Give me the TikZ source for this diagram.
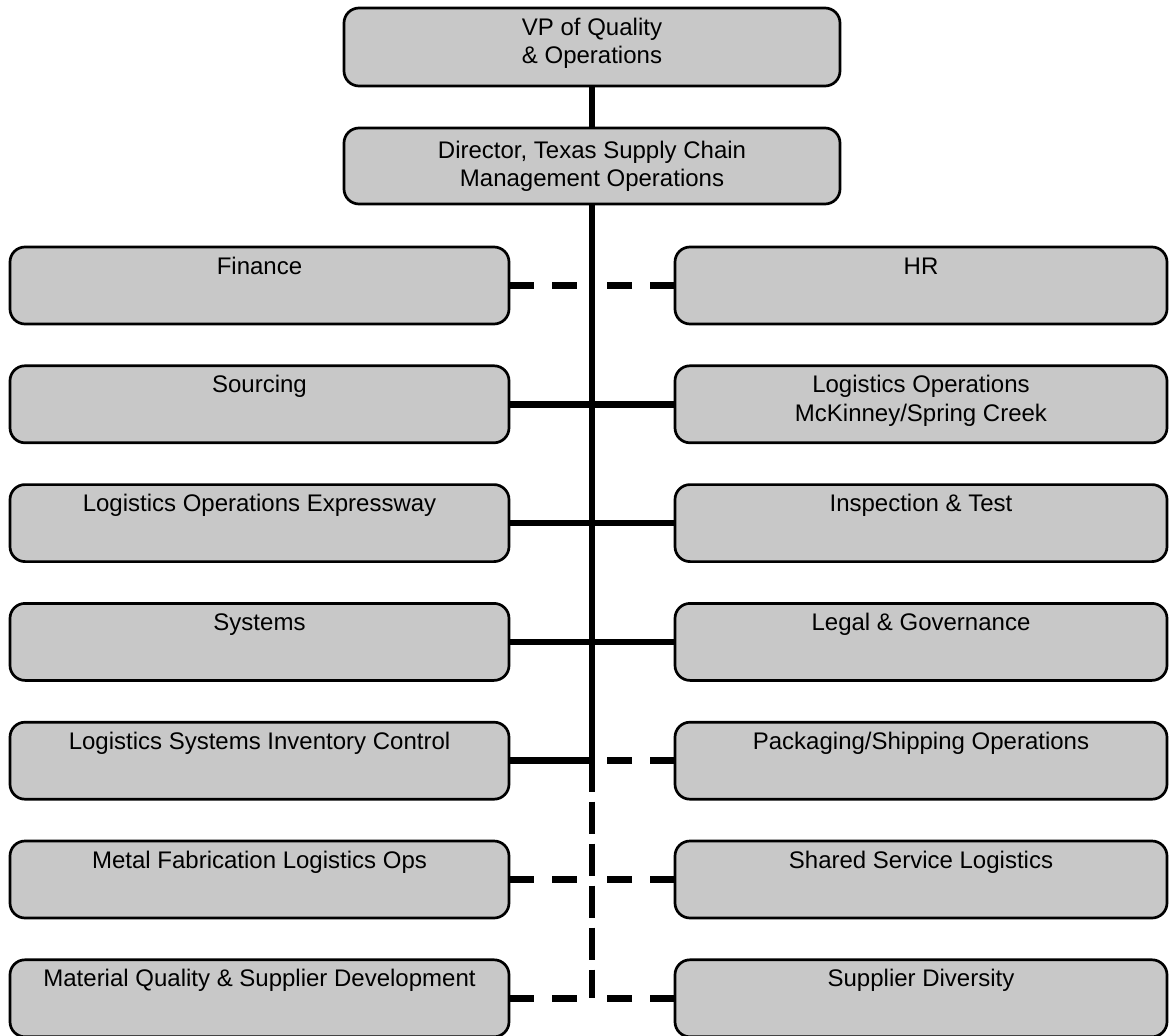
\documentclass[tikz,border=0pt]{standalone}
\usepackage{fontspec}
\setmainfont{Liberation Sans}
\usetikzlibrary{calc}
\definecolor{boxgray}{RGB}{200,200,200}
% text block pinned to the top of a box: width, height, first baseline, text
\newcommand{\boxlbl}[4]{\parbox[c][#2][t]{#1}{\centering\rule{0pt}{#3}#4}}
\newcommand{\leftbox}[1]{\boxlbl{499pt}{77pt}{27pt}{#1}}
\newcommand{\rightbox}[1]{\boxlbl{492pt}{77pt}{27pt}{#1}}
\tikzset{
  orgbox/.style={draw=black, line width=2.7pt, rounded corners=15pt,
    fill=boxgray, inner sep=0pt, outer sep=0pt,
    font=\fontsize{24}{28.5}\selectfont},
  conn/.style={line width=6.5pt, line cap=butt, black},
  hdash/.style={dash pattern=on 25pt off 18pt},
  vdash/.style={dash pattern=on 32pt off 10pt, dash phase=32pt},
}
\begin{document}
\begin{tikzpicture}[x=1pt,y=-1pt]
\useasboundingbox (0,0) rectangle (1171,1036);

% horizontal position of the spine
\coordinate (spx) at (592,0);

% top of the chart
\node[orgbox] (vp) at (592,47) {\boxlbl{496pt}{78pt}{27pt}{VP of Quality\\\& Operations}};
\node[orgbox] (dir) at (592,166) {\boxlbl{496pt}{76pt}{30pt}{Director, Texas Supply Chain\\Management Operations}};

% left column
\node[orgbox] (fin) at (259.5,285.5) {\leftbox{Finance}};
\node[orgbox] (src) at (259.5,404.3) {\leftbox{Sourcing}};
\node[orgbox] (loe) at (259.5,523.1) {\leftbox{Logistics Operations Expressway}};
\node[orgbox] (sys) at (259.5,641.9) {\leftbox{Systems}};
\node[orgbox] (lsic) at (259.5,760.7) {\leftbox{Logistics Systems Inventory Control}};
\node[orgbox] (mfl) at (259.5,879.5) {\leftbox{Metal Fabrication Logistics Ops}};
\node[orgbox] (mqs) at (259.5,998.3) {\leftbox{Material Quality \& Supplier Development}};

% right column
\node[orgbox] (hr) at (921,285.5) {\rightbox{HR}};
\node[orgbox] (lom) at (921,404.3) {\rightbox{Logistics Operations\\McKinney/Spring Creek}};
\node[orgbox] (ins) at (921,523.1) {\rightbox{Inspection \& Test}};
\node[orgbox] (leg) at (921,641.9) {\rightbox{Legal \& Governance}};
\node[orgbox] (pso) at (921,760.7) {\rightbox{Packaging/Shipping Operations}};
\node[orgbox] (ssl) at (921,879.5) {\rightbox{Shared Service Logistics}};
\node[orgbox] (sdv) at (921,998.3) {\rightbox{Supplier Diversity}};

% vertical spine: solid, then dashed below the inventory-control row
\coordinate (spmid) at ($(lsic.east -| spx)+(0,31)$);
\coordinate (spend) at (mqs.east -| spx);
\draw[conn] (vp.south) -- (dir.north);
\draw[conn] (dir.south) -- (spmid);
\draw[conn, vdash] (spmid) -- (spend);

% solid reporting lines
\foreach \b in {src,loe,sys,lsic} \draw[conn] (\b.east) -- (\b.east -| spx);
\foreach \b in {lom,ins,leg} \draw[conn] (\b.west) -- (\b.west -| spx);

% dotted-line reporting
\foreach \b in {fin,mfl,mqs} \draw[conn, hdash] (\b.east) -- (\b.east -| spx);
\foreach \b in {hr,pso,ssl,sdv} \draw[conn, hdash] (\b.west) -- (\b.west -| spx);
\end{tikzpicture}
\end{document}
